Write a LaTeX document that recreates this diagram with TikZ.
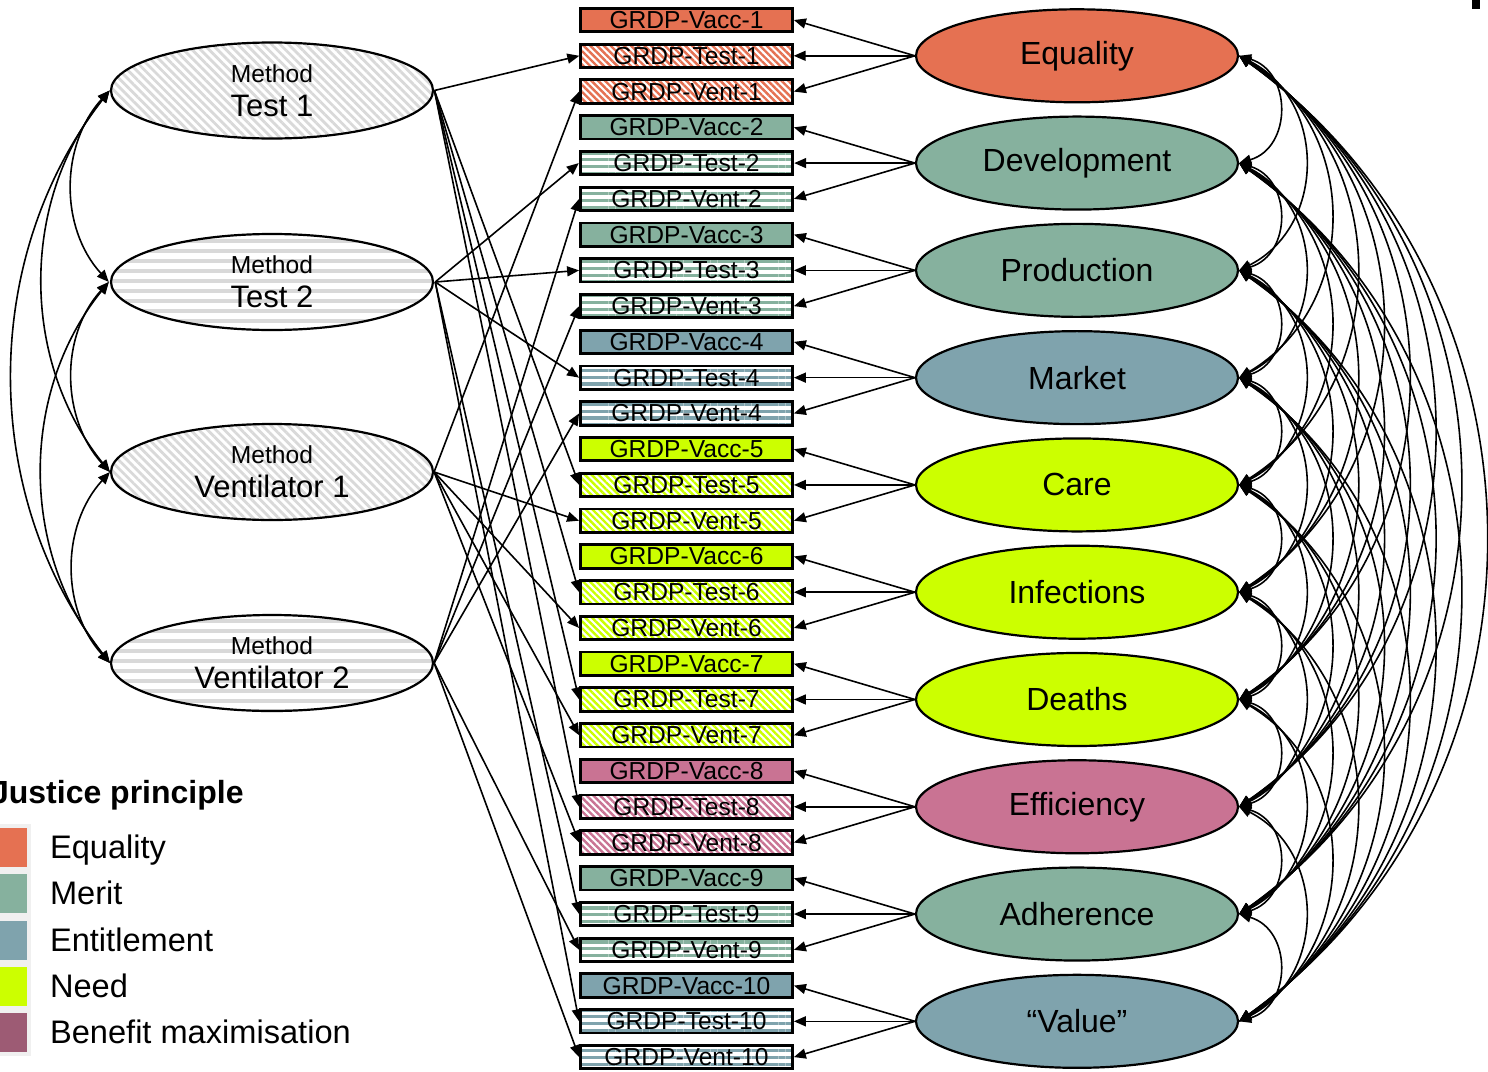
\documentclass[tikz,border=0pt]{standalone}
\usepackage{fontspec}
\setmainfont{Liberation Sans}
\usetikzlibrary{arrows.meta,shapes.geometric,patterns.meta}

\definecolor{eqcol}{HTML}{E57152}
\definecolor{meritcol}{HTML}{86B19E}
\definecolor{entcol}{HTML}{7FA3AD}
\definecolor{needcol}{HTML}{CCFF00}
\definecolor{effcol}{HTML}{C97393}
\definecolor{bencol}{HTML}{9D5B74}
\definecolor{methcol}{HTML}{D9D9D9}

\tikzset{
  grdp/.style={draw, line width=1.4pt, minimum width=106pt, minimum height=11.7pt,
    inner sep=0pt, font=\fontsize{12.3}{13}\selectfont},
  diagfill/.style={preaction={fill=white}, pattern={Lines[angle=-45,distance=2.4pt,line width=1.2pt]}},
  horizfill/.style={preaction={fill=white}, pattern={Lines[angle=0,distance=3.4pt,line width=1.7pt]}},
  mdiag/.style={preaction={fill=white}, pattern={Lines[angle=-45,distance=3pt,line width=1.4pt]}, pattern color=methcol},
  mhoriz/.style={preaction={fill=white}, pattern={Lines[angle=0,distance=5pt,line width=2.2pt]}, pattern color=methcol},
  principle/.style={ellipse, draw, line width=1.1pt, minimum width=161pt, minimum height=46.5pt,
    inner sep=0pt, font=\fontsize{16}{18}\selectfont},
  method/.style={ellipse, draw, line width=1.1pt, minimum width=161pt, minimum height=48pt,
    inner sep=0pt, align=center},
  loading/.style={-{Triangle[length=6pt,width=5pt]}, line width=0.8pt},
  cov/.style={{Triangle[length=6pt,width=5pt]}-{Triangle[length=6pt,width=5pt]}, line width=0.8pt},
}

\newcommand{\methlab}[1]{{\fontsize{12.3}{13}\selectfont Method}\\[5pt]{\fontsize{15.5}{17}\selectfont #1}}

\begin{document}
\begin{tikzpicture}[x=0.5pt,y=-0.5pt]
 \path[use as bounding box, clip] (0,0) rectangle (1488,1071);
 %
 % justice principles and their indicators
 \foreach \lab/\col/\fil [count=\g] in {Equality/eqcol/diagfill, Development/meritcol/horizfill,
     Production/meritcol/horizfill, Market/entcol/horizfill, Care/needcol/diagfill,
     Infections/needcol/diagfill, Deaths/needcol/diagfill, Efficiency/effcol/diagfill,
     Adherence/meritcol/horizfill, “Value”/entcol/horizfill}{
   \pgfmathsetmacro\yt{55.8+(\g-1)*107.28}
   \node[principle, fill=\col] (j\g) at (1077,\yt) {\lab};
   \node[grdp, fill=\col] (vacc\g) at (686.5,\yt-35.76) {GRDP-Vacc-\g};
   \node[grdp, \fil, pattern color=\col] (test\g) at (686.5,\yt) {GRDP-Test-\g};
   \node[grdp, \fil, pattern color=\col] (vent\g) at (686.5,\yt+35.76) {GRDP-Vent-\g};
   \foreach \b in {vacc,test,vent} \draw[loading] (j\g.west) -- (\b\g.east);
 }
 %
 % methods
 \node[method, mdiag] (mtest1) at (272,90.5) {\methlab{Test 1}};
 \node[method, mhoriz] (mtest2) at (272,282) {\methlab{Test 2}};
 \node[method, mdiag] (mvent1) at (272,472) {\methlab{Ventilator 1}};
 \node[method, mhoriz] (mvent2) at (272,663) {\methlab{Ventilator 2}};
 %
 \foreach \g in {1,5,6,7,8}{
   \draw[loading] (mtest1.east) -- (test\g.west);
   \draw[loading] (mvent1.east) -- (vent\g.west);
 }
 \foreach \g in {2,3,4,9,10}{
   \draw[loading] (mtest2.east) -- (test\g.west);
   \draw[loading] (mvent2.east) -- (vent\g.west);
 }
 %
 % covariances between methods
 \foreach \a/\b/\n in {mtest1/mtest2/1, mtest1/mvent1/2, mtest1/mvent2/3,
     mtest2/mvent1/1, mtest2/mvent2/2, mvent1/mvent2/1}{
   \pgfmathsetmacro\bulge{37+30.5*(\n-1)}
   \pgfmathsetmacro\tilt{90-2*atan(2*\bulge/(191*\n))}
   \pgfmathsetmacro\outa{180+\tilt}
   \pgfmathsetmacro\ina{180-\tilt}
   \pgfmathsetmacro\loose{\bulge/(0.2936*191*\n*cos(\tilt))}
   \draw[cov] (\a.west) to[out=\outa, in=\ina, looseness=\loose] (\b.west);
 }
 %
 % covariances between principles
 \foreach \i in {1,...,9}{
   \pgfmathtruncatemacro\inext{\i+1}
   \foreach \k in {\inext,...,10}{
     \pgfmathtruncatemacro\n{\k-\i}
     \pgfmathsetmacro\bulge{40+25.9*(\n-1)}
     \pgfmathsetmacro\tilt{90-2*atan(2*\bulge/(107.28*\n))}
     \pgfmathsetmacro\loose{\bulge/(0.2936*107.28*\n*cos(\tilt))}
     \draw[cov] (j\i.east) to[out=-\tilt, in=\tilt, looseness=\loose] (j\k.east);
   }
 }
 %
 % legend
 \node[anchor=base west, font=\bfseries\fontsize{16}{18}\selectfont] (lgtitle) at (-16,803) {Justice principle};
 \fill[black!6] (-20,824) rectangle (31,1056);
 \foreach \lab/\col [count=\i] in {Equality/eqcol, Merit/meritcol, Entitlement/entcol,
     Need/needcol, Benefit maximisation/bencol}{
   \pgfmathsetmacro\yl{847.5+(\i-1)*46.25}
   \node[fill=\col, minimum width=19.5pt, minimum height=19.5pt, inner sep=0pt] (lgbox\i) at (7.5,\yl) {};
   \node[anchor=base west, font=\fontsize{16.3}{18}\selectfont] (lglab\i) at (43,\yl+11) {\lab};
 }
 %
 \fill (1472,0) rectangle (1480,9);
\end{tikzpicture}
\end{document}
